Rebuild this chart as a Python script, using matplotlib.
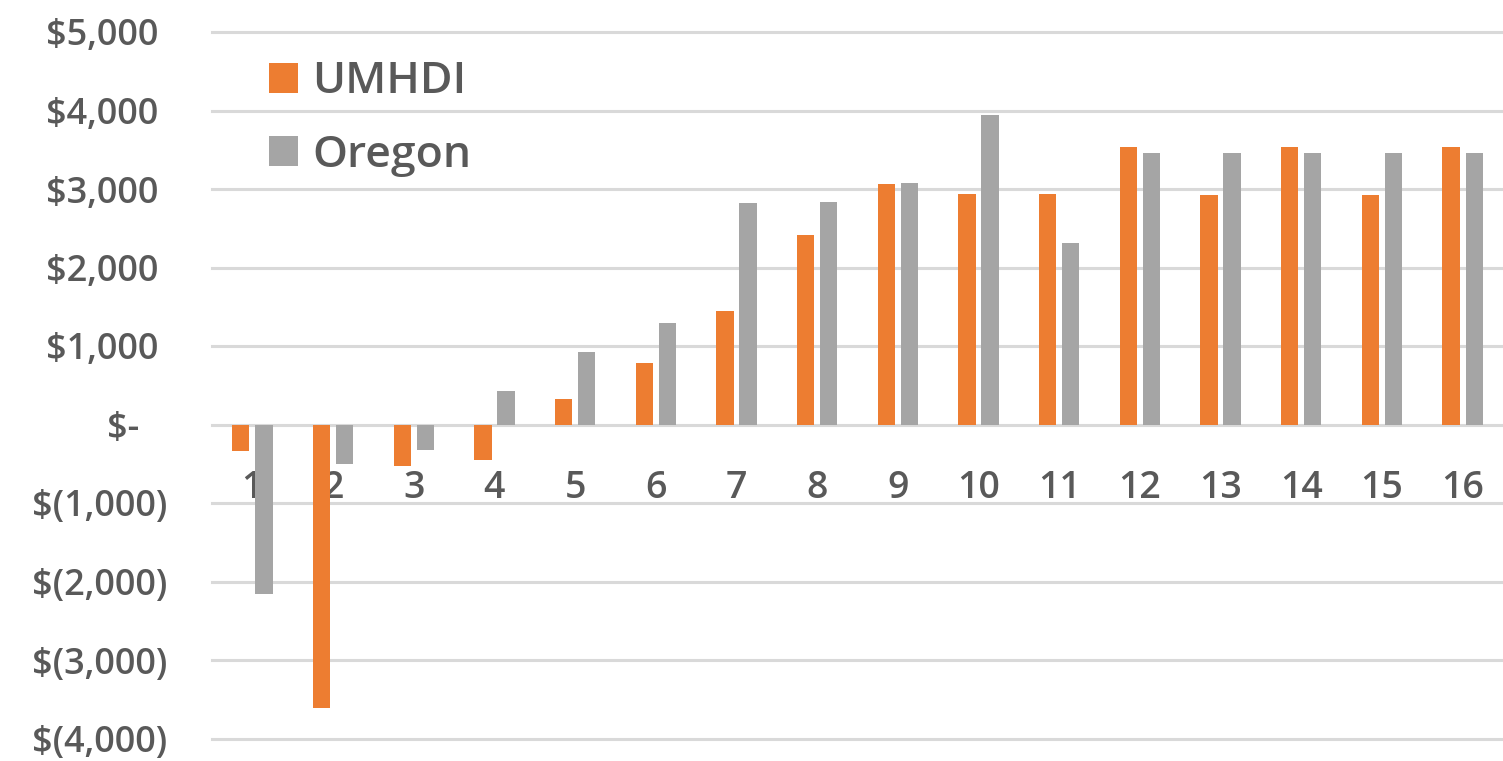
import matplotlib
matplotlib.use("Agg")
import matplotlib.pyplot as plt
import numpy as np

categories = [str(i) for i in range(1, 17)]
umhdi = [-340, -3610, -530, -455, 320, 780, 1440, 2410, 3060, 2930, 2930, 3530, 2920, 3530, 2920, 3530]
oregon = [-2165, -505, -320, 425, 920, 1290, 2820, 2840, 3080, 3940, 2310, 3460, 3460, 3460, 3460, 3460]
yticks = [-4000, -3000, -2000, -1000, 0, 1000, 2000, 3000, 4000, 5000]
ytick_labels = ["$(4,000)", "$(3,000)", "$(2,000)", "$(1,000)", "$-   ",
                "$1,000 ", "$2,000 ", "$3,000 ", "$4,000 ", "$5,000 "]

ORANGE = "#ED7D31"
GRAY = "#A5A5A5"
TEXT = "#595959"
GRID = "#D9D9D9"

plt.rcParams['font.family'] = ['Open Sans', 'DejaVu Sans']

fig = plt.figure(figsize=(15.03, 7.61), dpi=100)
W, H = 1503, 761
left, right, top, bottom = 212, 1503, 32, 738.5
ax = fig.add_axes([left / W, (H - bottom) / H, (right - left) / W, (bottom - top) / H])

x = np.arange(1, 17)
bw = 0.215
off = 0.143
ax.bar(x - off, umhdi, bw, color=ORANGE, label="UMHDI", zorder=3)
ax.bar(x + off, oregon, bw, color=GRAY, label="Oregon", zorder=3)

ax.set_xlim(0.5, 16.5)
ax.set_ylim(-4000, 5000)
ax.set_yticks(yticks)
ax.set_yticklabels(ytick_labels)
ax.set_xticks(x)
ax.set_xticklabels(categories)

for yv in yticks:
    ax.axhline(yv, color=GRID, lw=2.2, zorder=1, clip_on=False)

for s in ['top', 'right', 'left']:
    ax.spines[s].set_visible(False)
ax.spines['bottom'].set_position(('data', 0))
ax.spines['bottom'].set_visible(False)

WEIGHT = 'semibold'
ax.tick_params(axis='y', length=0, pad=32, labelsize=26, labelcolor=TEXT)
ax.tick_params(axis='x', length=0, pad=32, labelsize=27, labelcolor=TEXT)
for lab in ax.get_yticklabels() + ax.get_xticklabels():
    lab.set_fontweight(WEIGHT)

leg = ax.legend(loc='upper left', bbox_to_anchor=(0.03, 0.985), frameon=False,
                fontsize=32, handlelength=0.66, handleheight=0.66, handletextpad=0.33,
                labelspacing=0.68, borderaxespad=0)
for t in leg.get_texts():
    t.set_color(TEXT)
    t.set_fontweight(WEIGHT)

fig.savefig("out.png", dpi=100)
